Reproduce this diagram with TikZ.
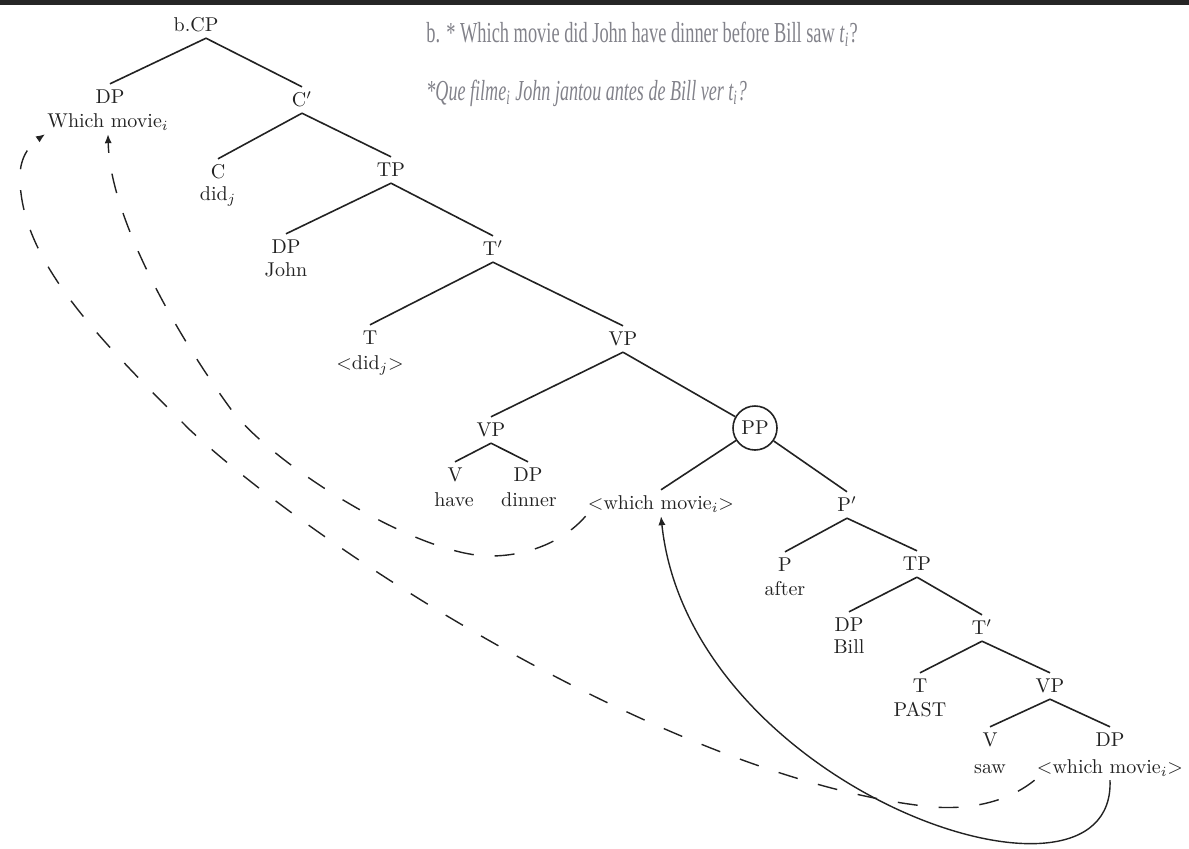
\documentclass[tikz,border=0pt]{standalone}
\usepackage{fontspec}
\newfontfamily\hdrfont[FakeStretch=0.634]{Liberation Serif}
\newfontfamily\hdritfont[FakeStretch=0.624]{Liberation Serif}
\usetikzlibrary{arrows.meta}
\definecolor{hdrgray}{RGB}{130,130,138}
\definecolor{barcol}{RGB}{38,38,38}
\definecolor{inkcol}{RGB}{34,34,34}
\begin{document}
\begin{tikzpicture}[x=0.5pt,y=-0.5pt,
  cat/.style={inner xsep=1pt, inner ysep=3pt, text height=6.8pt, text depth=0pt, font=\fontsize{10}{12}\selectfont, text=inkcol},
  edge/.style={draw=inkcol, line width=0.8pt},
  mv/.style={draw=inkcol, line width=0.7pt, dash pattern=on 10pt off 10.5pt},
  mvsolid/.style={draw=inkcol, line width=0.7pt},
  tip/.style={-{Latex[length=4.5pt,width=3.6pt]}},
  hdr/.style={anchor=base west, inner sep=0pt, text=hdrgray, font=\hdrfont\fontsize{14.5}{17}\selectfont},
  hdrit/.style={anchor=base west, inner sep=0pt, text=hdrgray, font=\hdritfont\itshape\fontsize{14.5}{17}\selectfont}]
\useasboundingbox (0,0) rectangle (1189,848);
\fill[barcol] (0,0) rectangle (1189,4.5);

% header sentences
\node[hdr] (s1) at (426,42) {b. * Which movie did John have dinner before Bill saw \textit{t}\textsubscript{\textit{i}}?};
\node[hdrit] (s2) at (426,100) {*Que filme\textsubscript{i} John jantou antes de Bill ver t\textsubscript{i}?};

% tree nodes
\node[cat] (cp) at (196,25) {b.CP};
\node[cat] (dp1) at (110,97) {DP};
\node[cat] (wm0) at (108,121) {Which movie$_i$};
\node[cat] (cbar) at (302,100) {C$'$};
\node[cat] (c) at (218,172) {C};
\node[cat] (didj) at (218,194) {did$_j$};
\node[cat] (tp1) at (391,170) {TP};
\node[cat] (dp2) at (286,247) {DP};
\node[cat] (john) at (286,270) {John};
\node[cat] (tbar) at (493,249) {T$'$};
\node[cat] (t1) at (370,338) {T};
\node[cat] (didt) at (370,363) {$<$did$_j$$>$};
\node[cat] (vp1) at (623,339) {VP};
\node[circle, draw=inkcol, line width=0.8pt, minimum size=22pt, inner sep=0pt, font=\fontsize{10}{12}\selectfont, text=inkcol] (pp) at (755,428) {PP};
\node[cat] (vp2) at (491,430) {VP};
\node[cat] (v1) at (455,475) {V};
\node[cat] (have) at (454,500) {have};
\node[cat] (dp3) at (528,475) {DP};
\node[cat] (dinner) at (529,500) {dinner};
\node[cat] (wm1) at (661,503) {$<$which movie$_i$$>$};
\node[cat] (pbar) at (847,505) {P$'$};
\node[cat] (p) at (785,565) {P};
\node[cat] (after) at (785,589) {after};
\node[cat] (tp2) at (917,564) {TP};
\node[cat] (dp4) at (849,625) {DP};
\node[cat] (bill) at (849,647) {Bill};
\node[cat] (tbar2) at (982,628) {T$'$};
\node[cat] (t2) at (920,686) {T};
\node[cat] (past) at (920,710) {PAST};
\node[cat] (vp3) at (1050,686) {VP};
\node[cat] (v2) at (990,740) {V};
\node[cat] (saw) at (990,767) {saw};
\node[cat] (dp5) at (1110,740) {DP};
\node[cat] (wm2) at (1110,767) {$<$which movie$_i$$>$};

% tree edges
\draw[edge] ([xshift=5pt]cp.south) -- (dp1.north);
\draw[edge] ([xshift=5pt]cp.south) -- (cbar.north);
\draw[edge] (cbar.south) -- (c.north);
\draw[edge] (cbar.south) -- (tp1.north);
\draw[edge] (tp1.south) -- (dp2.north);
\draw[edge] (tp1.south) -- (tbar.north);
\draw[edge] (tbar.south) -- (t1.north);
\draw[edge] (tbar.south) -- (vp1.north);
\draw[edge] (vp1.south) -- (vp2.north);
\draw[edge] (vp1.south) -- (pp);
\draw[edge] (vp2.south) -- (v1.north);
\draw[edge] (vp2.south) -- (dp3.north);
\draw[edge] (pp) -- (wm1.north);
\draw[edge] (pp) -- (pbar.north);
\draw[edge] (pbar.south) -- (p.north);
\draw[edge] (pbar.south) -- (tp2.north);
\draw[edge] (tp2.south) -- (dp4.north);
\draw[edge] (tp2.south) -- (tbar2.north);
\draw[edge] (tbar2.south) -- (t2.north);
\draw[edge] (tbar2.south) -- (vp3.north);
\draw[edge] (vp3.south) -- (v2.north);
\draw[edge] (vp3.south) -- (dp5.north);

% movement arrows
\draw[mv, tip] (wm2.south west) .. controls (1010,800) and (975,810) .. (933,807)
  .. controls (683,782) and (330,560) .. (190,430)
  .. controls (100,340) and (22,262) .. (20,180)
  .. controls (19,160) and (28,146) .. (wm0.south west);
\draw[mv, tip] (wm1.south west) .. controls (565,540) and (530,556) .. (490,556)
  .. controls (420,556) and (280,470) .. (233,412)
  .. controls (180,340) and (110,220) .. (wm0.south);
\draw[mvsolid, tip] (wm2.south) .. controls (1116,935) and (690,790) .. (wm1.south);
\end{tikzpicture}
\end{document}
